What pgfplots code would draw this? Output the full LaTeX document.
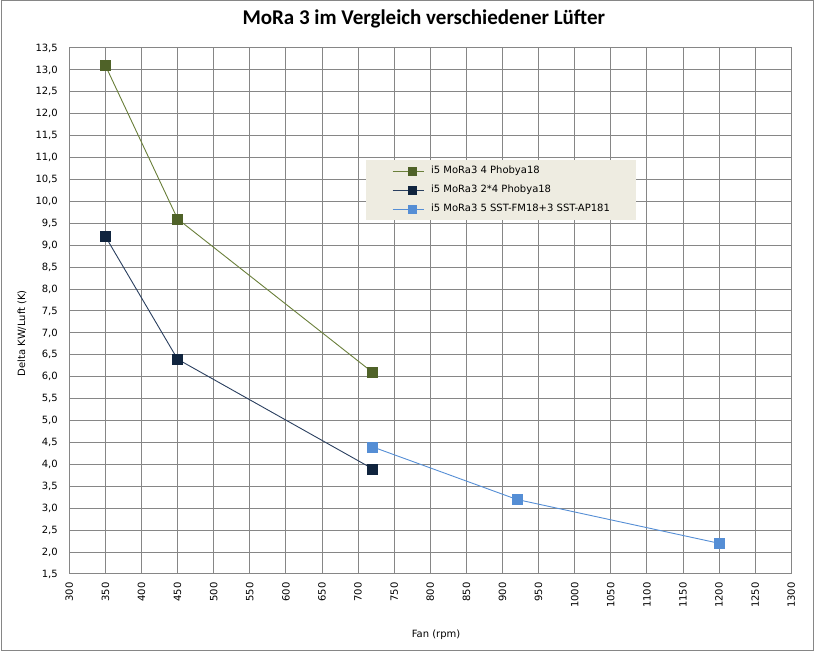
\documentclass[border=0pt]{standalone}
\usepackage{pgfplots}
\pgfplotsset{compat=1.18}
\usepackage{fontspec}
\setmainfont{DejaVu Sans}
\newfontfamily\titlefont{Carlito}
\definecolor{gridgray}{HTML}{868686}
\definecolor{olivec}{HTML}{4F6228}
\definecolor{olivel}{HTML}{6A7F3A}
\definecolor{navyc}{HTML}{10243E}
\definecolor{navyl}{HTML}{2A3F5F}
\definecolor{lbluec}{HTML}{558ED5}
\definecolor{legbg}{HTML}{EEECE1}
\begin{document}
\begin{tikzpicture}[x=1pt,y=1pt]
\path (0,0) rectangle (815,652);
\draw[gridgray, line width=1pt] (1,1) rectangle (813.5,651);
\begin{axis}[
  at={(69.3pt,78pt)}, anchor=south west, scale only axis,
  width=722pt, height=526pt,
  xmin=300, xmax=1300, ymin=1.5, ymax=13.5,
  xtick={300,350,...,1300}, ytick={1.5,2,...,13.5},
  grid=major, grid style={gridgray, line width=1pt},
  axis line style={gridgray, line width=1pt},
  major tick length=0pt,
  tick label style={font=\fontsize{10}{12}\selectfont},
  /pgf/number format/assume math mode=true,
  yticklabel style={/pgf/number format/.cd, use comma, fixed, fixed zerofill, precision=1},
  xticklabel style={rotate=90, anchor=east, /pgf/number format/.cd, 1000 sep={}},
  xticklabel shift=5pt, yticklabel shift=8pt,
  title={MoRa 3 im Vergleich verschiedener Lüfter},
  title style={font=\titlefont\bfseries\fontsize{21}{24}\selectfont, at={(0.491,1.0342)}, anchor=base},
  xlabel={Fan (rpm)},
  xlabel style={font=\fontsize{10}{12}\selectfont, at={(0.508,-0.116)}, anchor=center},
  ylabel={Delta KW/Luft (K)},
  ylabel style={font=\fontsize{10}{12}\selectfont, at={(-0.0655,0.458)}, anchor=center},
  legend cell align=left,
  legend image code/.code={\path (-8pt,0pt) -- (0pt,0pt); \draw[mark repeat=2, mark phase=2, #1, mark size=4pt] plot coordinates {(0pt,0pt) (12pt,0pt) (23pt,0pt)};},
  legend style={at={(0.411,0.787)}, anchor=north west, fill=legbg, draw=none,
    font=\fontsize{10}{12}\selectfont, inner xsep=26pt, inner ysep=6pt,
    nodes={inner sep=0pt, text height=7.5pt, text depth=2pt},
    row sep=9.5pt, column sep=7pt},
]
\addplot[color=olivel, line width=0.9pt, mark=square*, mark size=5pt, mark options={solid, draw=olivec, fill=olivec, line width=0.5pt}]
  coordinates {(350,13.1) (450,9.6) (720,6.1)};
\addlegendentry{i5 MoRa3 4 Phobya18}
\addplot[color=navyl, line width=0.9pt, mark=square*, mark size=5pt, mark options={solid, draw=navyc, fill=navyc, line width=0.5pt}]
  coordinates {(350,9.2) (450,6.4) (720,3.9)};
\addlegendentry{i5 MoRa3 2*4 Phobya18}
\addplot[color=lbluec, line width=0.9pt, mark=square*, mark size=5pt, mark options={solid, draw=lbluec, fill=lbluec, line width=0.5pt}]
  coordinates {(720,4.4) (920,3.2) (1200,2.2)};
\addlegendentry{i5 MoRa3 5 SST-FM18+3 SST-AP181}
\end{axis}
\end{tikzpicture}
\end{document}
